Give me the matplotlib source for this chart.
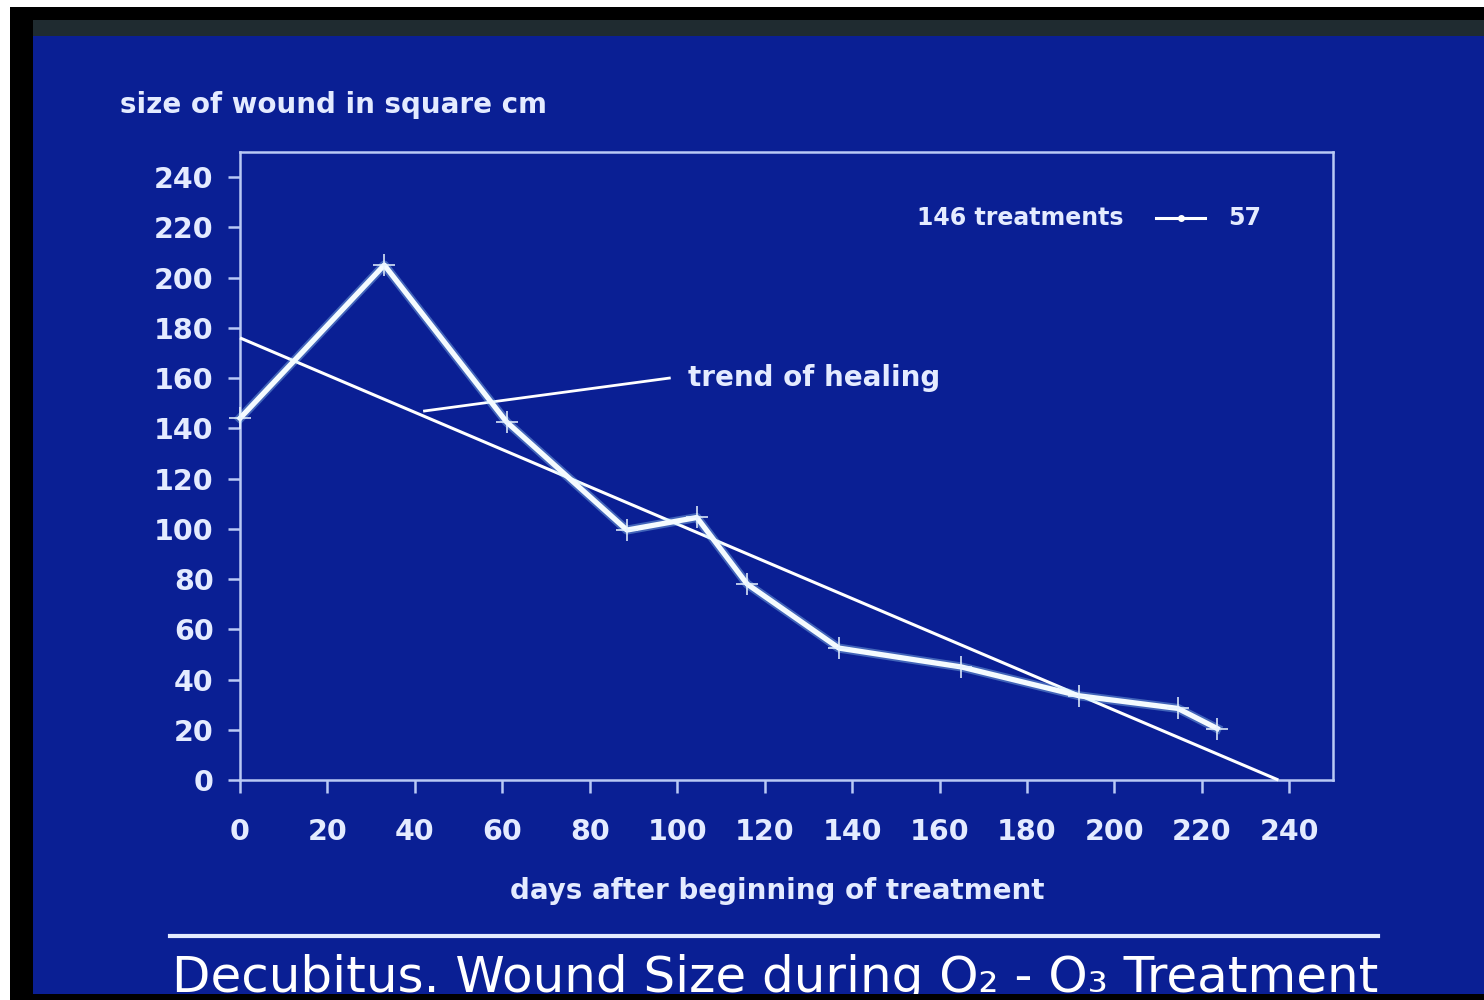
import matplotlib.pyplot as plt
import matplotlib.patheffects as pe
from matplotlib.patches import Rectangle
from matplotlib.lines import Line2D

# wound size measurements (days after start, square cm)
days = [0, 33, 61, 88.5, 104.5, 116, 137, 165, 192, 214.5, 223.5]
wound_size = [144, 205, 142.5, 99.5, 104.5, 78, 52.5, 45, 33.5, 28.5, 20.5]

# linear trend of healing (start and end points)
trend_days = [0, 237.5]
trend_size = [176, 0]

x_ticks = list(range(0, 241, 20))
y_ticks = list(range(0, 241, 20))

legend_label = "146 treatments"
legend_count = "57"
trend_label = "trend of healing"
x_label = "days after beginning of treatment"
y_label = "size of wound in square cm"
title = "Decubitus. Wound Size during O\u2082 - O\u2083 Treatment"

BLUE = "#0a1f94"
INK = "#e4ebff"
SPINE = "#b9c9f5"

W, H = 1484, 1000
fig = plt.figure(figsize=(W / 100, H / 100), dpi=100)
fig.patch.set_facecolor("white")


def px_rect(x0, y0, x1, y1, color, z):
    # rectangle given in pixel coords (origin top-left)
    fig.patches.append(Rectangle((x0 / W, 1 - y1 / H), (x1 - x0) / W, (y1 - y0) / H,
                                 transform=fig.transFigure, facecolor=color,
                                 edgecolor="none", zorder=z))


# slide frame
px_rect(10, 7, W, H, "black", -20)
px_rect(33, 20, W, 36, "#1f2b30", -19)
px_rect(33, 36, W, 994, BLUE, -18)

ax = fig.add_axes([240 / W, 1 - 780 / H, (1333 - 240) / W, (780 - 152) / H])
ax.set_facecolor(BLUE)
ax.set_xlim(0, 250)
ax.set_ylim(0, 250)

for side in ["left", "right", "top", "bottom"]:
    ax.spines[side].set_color(SPINE)
    ax.spines[side].set_linewidth(1.8)

ax.set_xticks(x_ticks)
ax.set_yticks(y_ticks)
ax.tick_params(direction="out", length=9, width=1.8, color=SPINE,
               labelcolor=INK, labelsize=20.5)
ax.tick_params(axis="x", pad=18)
ax.tick_params(axis="y", pad=10)
for lab in ax.get_xticklabels() + ax.get_yticklabels():
    lab.set_fontweight("bold")

# trend line
ax.plot(trend_days, trend_size, color="white", lw=2.2, solid_capstyle="butt",
        clip_on=False, zorder=3)

# measured wound size
glow = [pe.Stroke(linewidth=6.5, foreground="#a8e6ff", alpha=0.35), pe.Normal()]
ax.plot(days, wound_size, color="#f4fbff", lw=3.8, path_effects=glow,
        clip_on=False, zorder=4)
ax.plot(days, wound_size, linestyle="none", marker="+", markersize=16,
        markeredgewidth=1.1, color="#e8f4ff", clip_on=False, zorder=5)

# annotation pointer for trend
ax.plot([42.2, 98.2], [146.9, 160], color="white", lw=2, zorder=3)
ax.text(102.5, 160, trend_label, color=INK, fontsize=20, fontweight="bold",
        va="center", ha="left")

# legend drawn by hand like the slide
ax.text(154.8, 223.7, legend_label, color=INK, fontsize=17, fontweight="bold",
        va="center", ha="left")
ax.add_line(Line2D([209.6, 220.8], [223.7, 223.7], color="white", lw=2.2))
ax.plot([215.2], [223.7], marker="o", markersize=4, color="white")
ax.text(226, 223.7, legend_count, color=INK, fontsize=17, fontweight="bold",
        va="center", ha="left")

fig.text(120 / W, 1 - 105 / H, y_label, color=INK, fontsize=20, fontweight="bold",
         va="center", ha="left")
fig.text(777 / W, 1 - 891 / H, x_label, color=INK, fontsize=20, fontweight="bold",
         va="center", ha="center")

# separator and title
fig.add_artist(Line2D([170 / W, 1378 / W], [1 - 936 / H, 1 - 936 / H],
                      transform=fig.transFigure, color=INK, lw=3))
fig.text(172 / W, 1 - 992 / H, title, color="white", fontsize=36,
         va="baseline", ha="left")
# slide edge cuts the title
px_rect(10, 994, W, H, "black", 10)

plt.savefig("out.png", dpi=100)
